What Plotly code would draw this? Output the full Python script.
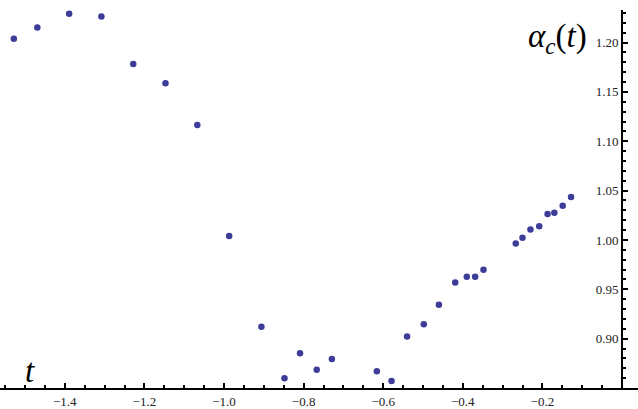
import plotly.graph_objects as go

# data
t_values = [
    -1.528, -1.469, -1.389, -1.308, -1.228, -1.147, -1.067, -0.987,
    -0.906, -0.848, -0.809, -0.767, -0.729, -0.616, -0.579, -0.540,
    -0.498, -0.460, -0.419, -0.390, -0.369, -0.348, -0.267, -0.250,
    -0.230, -0.208, -0.187, -0.170, -0.149, -0.128,
]
alpha_values = [
    1.2038, 1.2152, 1.2291, 1.2264, 1.1784, 1.1588, 1.1165, 1.0040,
    0.9120, 0.8600, 0.8853, 0.8684, 0.8795, 0.8670, 0.8570, 0.9022,
    0.9147, 0.9343, 0.9570, 0.9627, 0.9627, 0.9698, 0.9965, 1.0022,
    1.0107, 1.0138, 1.0263, 1.0276, 1.0347, 1.0435,
]
x_ticks = [-1.4, -1.2, -1.0, -0.8, -0.6, -0.4, -0.2]
y_ticks = [0.90, 0.95, 1.00, 1.05, 1.10, 1.15, 1.20]

W, H = 638, 409
M_TOP, M_BOT = 10, 21
x_range = [-1.5628, 0.0402]
y_range = [0.85, 1.233]

serif = "Liberation Serif"
tick_font = dict(family=serif, size=13, color="#222")

fig = go.Figure()
fig.add_trace(
    go.Scatter(
        x=t_values,
        y=alpha_values,
        mode="markers",
        marker=dict(color="#3d3d99", size=6.5),
        showlegend=False,
        cliponaxis=False,
    )
)

fig.update_layout(
    width=W,
    height=H,
    margin=dict(l=0, r=0, t=M_TOP, b=M_BOT, autoexpand=False),
    plot_bgcolor="white",
    paper_bgcolor="white",
    font=dict(family=serif),
    xaxis=dict(
        range=x_range,
        showgrid=False,
        zeroline=False,
        showline=True,
        linecolor="black",
        linewidth=2,
        ticks="inside",
        ticklen=5,
        tickwidth=1.5,
        tickcolor="black",
        tickvals=x_ticks,
        tickformat=".1f",
        tickfont=tick_font,
        minor=dict(dtick=0.05, tick0=0, ticks="inside", ticklen=3, tickwidth=1.5, tickcolor="black"),
    ),
    yaxis=dict(
        range=y_range,
        showgrid=False,
        zeroline=False,
        showline=True,
        linecolor="black",
        linewidth=2,
        anchor="free",
        position=622 / W,
        side="left",
        ticks="inside",
        ticklen=5,
        tickwidth=1.5,
        tickcolor="black",
        tickvals=y_ticks,
        tickformat=".2f",
        tickfont=tick_font,
        minor=dict(dtick=0.01, tick0=0, ticks="inside", ticklen=3, tickwidth=1.5, tickcolor="black"),
    ),
)

label_font = dict(family=serif, size=33, color="black")
fig.add_annotation(
    text="<i>α<sub>c</sub></i>(<i>t</i>)",
    xref="paper", yref="paper",
    x=589 / W, y=1 - (38 - M_TOP) / (H - M_TOP - M_BOT),
    xanchor="right", yanchor="middle",
    showarrow=False, font=label_font,
)
fig.add_annotation(
    text="<i>t</i>",
    xref="paper", yref="paper",
    x=30 / W, y=1 - (371 - M_TOP) / (H - M_TOP - M_BOT),
    xanchor="center", yanchor="middle",
    showarrow=False, font=label_font,
)

fig.write_html(
    "out.html",
    config={"displayModeBar": False},
    post_script="document.body.style.margin='0';document.body.style.overflow='hidden';",
)
